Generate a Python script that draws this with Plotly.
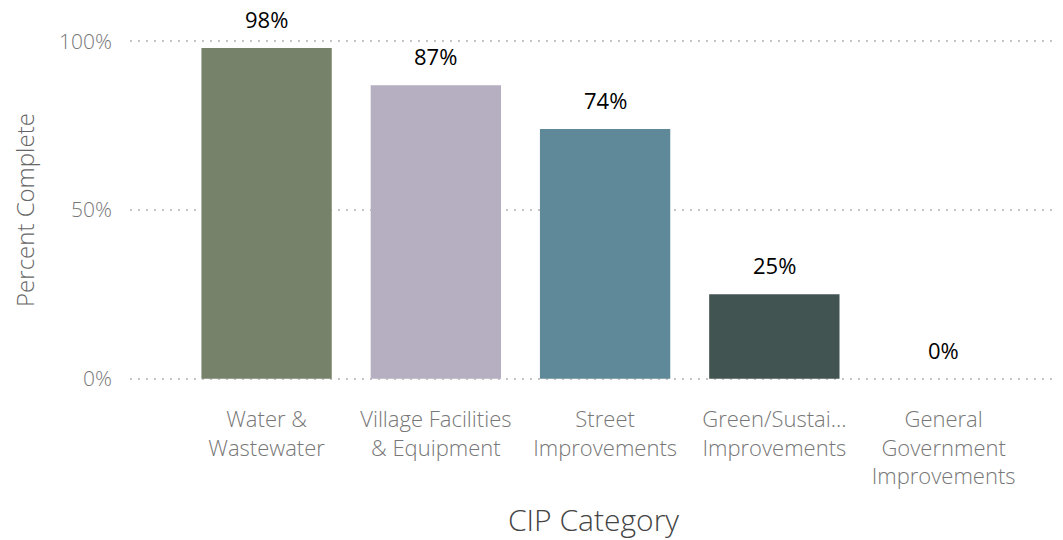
import plotly.graph_objects as go

categories = ["Water &<br>Wastewater", "Village Facilities<br>& Equipment", "Street<br>Improvements",
              "Green/Sustai…<br>Improvements", "General<br>Government<br>Improvements"]
percent_complete = [0.98, 0.87, 0.74, 0.25, 0.0]
bar_colors = ["#76836a", "#b6aec1", "#5f8898", "#415452", "#6a6a6a"]
y_tickvals = [0, 0.5, 1.0]
y_ticktext = ["0%", "50%", "100%"]

FONT = "Open Sans"

fig = go.Figure()
fig.add_trace(go.Bar(
    x=categories, y=percent_complete,
    marker=dict(color=bar_colors, line=dict(width=0)),
    hoverinfo="skip",
))

for c, v in zip(categories, percent_complete):
    fig.add_annotation(x=c, y=v, xref="x", yref="y", text=f"{round(v*100)}%",
                       showarrow=False, yanchor="middle", yshift=29,
                       font=dict(family=FONT, size=22, color="#000000"))

fig.update_layout(
    width=1063, height=540,
    margin=dict(l=122, r=14, t=30, b=166),
    paper_bgcolor="white", plot_bgcolor="white",
    bargap=0.23,
    showlegend=False,
    font=dict(family=FONT),
)
fig.update_xaxes(
    range=[-0.807, 4.67], automargin=False,
    showgrid=False, zeroline=False, showline=False, ticks="",
    ticklabelstandoff=22,
    tickfont=dict(family=FONT, size=22, color="#777777", weight=300),
    title=dict(text="CIP Category", font=dict(family=FONT, size=30, color="#444444", weight=300), standoff=20),
)
fig.update_yaxes(
    range=[-0.01, 1.01], automargin=False,
    tickvals=y_tickvals, ticktext=y_ticktext,
    showgrid=True, gridcolor="#c4c4c4", gridwidth=1.5, griddash="2px,6px",
    zeroline=False, showline=False, ticks="",
    ticklabelstandoff=17,
    tickfont=dict(family=FONT, size=21, color="#777777", weight=300),
    title=dict(text="Percent Complete", font=dict(family=FONT, size=24, color="#666666", weight=300), standoff=17),
)

fig.write_html("out.html")
